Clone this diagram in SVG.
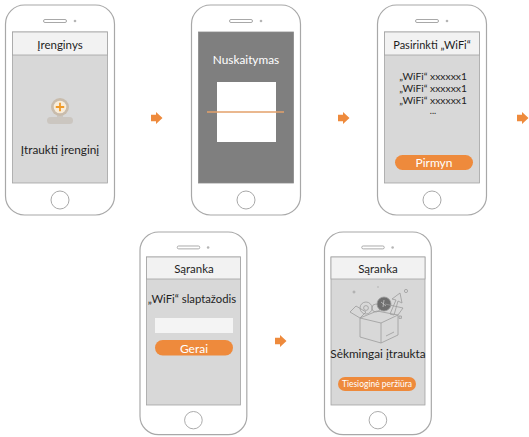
<svg xmlns="http://www.w3.org/2000/svg" xmlns:xlink="http://www.w3.org/1999/xlink" width="529" height="437" viewBox="0 0 529 437">
  <style>
    .body { fill: #ffffff; stroke: #a8a8a8; stroke-width: 1.2; }
    .slot { fill: none; stroke: #a8a8a8; stroke-width: 1; }
    .screen { fill: #d8d8d8; stroke: #a3a3a3; stroke-width: 0.8; }
    .head { fill: #f2f2f2; stroke: #a3a3a3; stroke-width: 0.8; }
    .dark { fill: #7f7f7f; stroke: #8a8a8a; stroke-width: 0.8; }
    .t { font-family: Lato, "Liberation Sans", sans-serif; fill: #1e1e1e; text-anchor: middle; dominant-baseline: central; }
    .w { fill: #ffffff; }
    .btn { fill: #ee8a3c; }
    .arrow { fill: #ee8a3c; }
    .art { fill: none; stroke: #9c9c9c; stroke-width: 0.8; stroke-linejoin: round; }
  </style>
  <defs>
    <!-- shared handset outline: body, speaker slot, camera dot, home button -->
    <g id="frame">
      <rect class="body" x="0" y="0" width="109" height="210" rx="19"/>
      <rect class="slot" x="38" y="14.5" width="23" height="3" rx="1.5"/>
      <circle cx="69.5" cy="16" r="1.3" fill="#b5b5b5"/>
      <circle class="slot" cx="54.5" cy="195" r="9"/>
    </g>
    <!-- small block arrow between steps -->
    <path id="step" class="arrow" d="M0,-3.2 H5 V-6 L11.5,0 L5,6 V3.2 H0 Z"/>
  </defs>

  <!-- step 1: device list -->
  <g id="phone-devices">
    <use xlink:href="#frame" transform="translate(5.5,5)"/>
    <rect class="screen" x="12.5" y="32" width="95" height="151"/>
    <rect class="head" x="12.5" y="32" width="95" height="23"/>
    <text class="t" x="60" y="44" font-size="11.5">Įrenginys</text>
    <g id="add-icon">
      <rect x="47" y="117" width="26" height="7" rx="3.5" fill="#cbc6c0"/>
      <rect x="57" y="113" width="6" height="6" fill="#cbc6c0"/>
      <circle cx="60" cy="107" r="9" fill="#c9bcac"/>
      <circle cx="60" cy="107" r="6.3" fill="#f8ecd9"/>
      <path d="M60,102.8 V111.2 M55.8,107 H64.2" stroke="#f09a28" stroke-width="1.8"/>
    </g>
    <text class="t" x="60" y="149" font-size="11.8">Įtraukti įrenginį</text>
  </g>

  <!-- step 2: scanning -->
  <g id="phone-scan">
    <use xlink:href="#frame" transform="translate(191.5,5)"/>
    <rect class="dark" x="198.5" y="32" width="95" height="151"/>
    <text class="t w" x="246" y="59" font-size="11.8">Nuskaitymas</text>
    <rect x="217" y="82" width="59" height="60" fill="#ffffff"/>
    <line x1="207" y1="112" x2="284" y2="112" stroke="#e3a06a" stroke-width="1.4"/>
  </g>

  <!-- step 3: network choice -->
  <g id="phone-wifi">
    <use xlink:href="#frame" transform="translate(377.5,5)"/>
    <rect class="screen" x="384.5" y="32" width="95" height="151"/>
    <rect class="head" x="384.5" y="32" width="95" height="23"/>
    <text class="t" x="432" y="44" font-size="11">Pasirinkti „WiFi“</text>
    <text class="t" x="433" y="76" font-size="10.3">„WiFi“ xxxxxx1</text>
    <text class="t" x="433" y="88" font-size="10.3">„WiFi“ xxxxxx1</text>
    <text class="t" x="433" y="100" font-size="10.3">„WiFi“ xxxxxx1</text>
    <text class="t" x="433" y="110" font-size="9">...</text>
    <rect class="btn" x="395" y="155" width="78" height="15" rx="7.5"/>
    <text class="t w" x="434" y="162.5" font-size="12">Pirmyn</text>
  </g>

  <!-- step 4: password -->
  <g id="phone-password">
    <use xlink:href="#frame" transform="translate(140,232) scale(0.98,0.965)"/>
    <rect class="screen" x="146.5" y="257" width="94" height="148"/>
    <rect class="head" x="146.5" y="257" width="94" height="22"/>
    <text class="t" x="194" y="268" font-size="11.5">Sąranka</text>
    <text class="t" x="192" y="298" font-size="11.3">„WiFi“ slaptažodis</text>
    <rect x="155" y="318" width="78" height="15" fill="#f4f4f4"/>
    <rect class="btn" x="155" y="340" width="78" height="15.5" rx="7.7"/>
    <text class="t w" x="194" y="348" font-size="12">Gerai</text>
  </g>

  <!-- step 5: done -->
  <g id="phone-done">
    <use xlink:href="#frame" transform="translate(324.5,232) scale(0.98,0.965)"/>
    <rect class="screen" x="331" y="257" width="94" height="148"/>
    <rect class="head" x="331" y="257" width="94" height="22"/>
    <text class="t" x="378" y="268" font-size="11.5">Sąranka</text>
    <g id="box-art">
      <circle class="art" cx="354" cy="292" r="1" fill="#b0b0b0"/>
      <circle cx="378" cy="287" r="0.8" fill="#b0b0b0"/>
      <circle class="art" cx="406" cy="291" r="1.6"/>
      <rect class="art" x="399" y="316" width="2.4" height="2.4"/>
      <!-- items popping out -->
      <path class="art" d="M390,314 L396,300 L392,299 L400,293 L402,303 L398,301 L394,315 Z"/>
      <circle class="art" cx="366" cy="308" r="6"/>
      <circle class="art" cx="366" cy="308" r="2.4"/>
      <circle class="art" cx="376" cy="308" r="4"/>
      <circle cx="384" cy="304" r="7" fill="#6e6e6e" stroke="#9c9c9c" stroke-width="0.8"/>
      <path d="M381,302 L386,306 M384,300 L383,307" stroke="#d0d0d0" stroke-width="0.7"/>
      <!-- open box -->
      <path class="art" d="M360,318 L350,312 L356,306 L366,312 Z" fill="#d9d9d9"/>
      <path class="art" d="M360,318 L381,323 L398,315 L377,311 Z" fill="#d9d9d9"/>
      <path class="art" d="M398,315 L403,308 L385,304" />
      <path class="art" d="M360,318 L360,337 L381,343 L381,323" fill="#d9d9d9"/>
      <path class="art" d="M381,343 L398,335 L398,315" fill="#d9d9d9"/>
      <path class="art" d="M386,336 L394,332" />
    </g>
    <text class="t" x="378" y="353" font-size="11.8">Sėkmingai įtraukta</text>
    <rect class="btn" x="338" y="377" width="78" height="14" rx="7"/>
    <text class="t w" x="377" y="384" font-size="8.5">Tiesioginė peržiūra</text>
  </g>

  <!-- connectors between steps -->
  <g id="connectors">
    <use xlink:href="#step" transform="translate(151,118)"/>
    <use xlink:href="#step" transform="translate(338,118)"/>
    <use xlink:href="#step" transform="translate(517,118)"/>
    <use xlink:href="#step" transform="translate(275,341)"/>
  </g>
</svg>
